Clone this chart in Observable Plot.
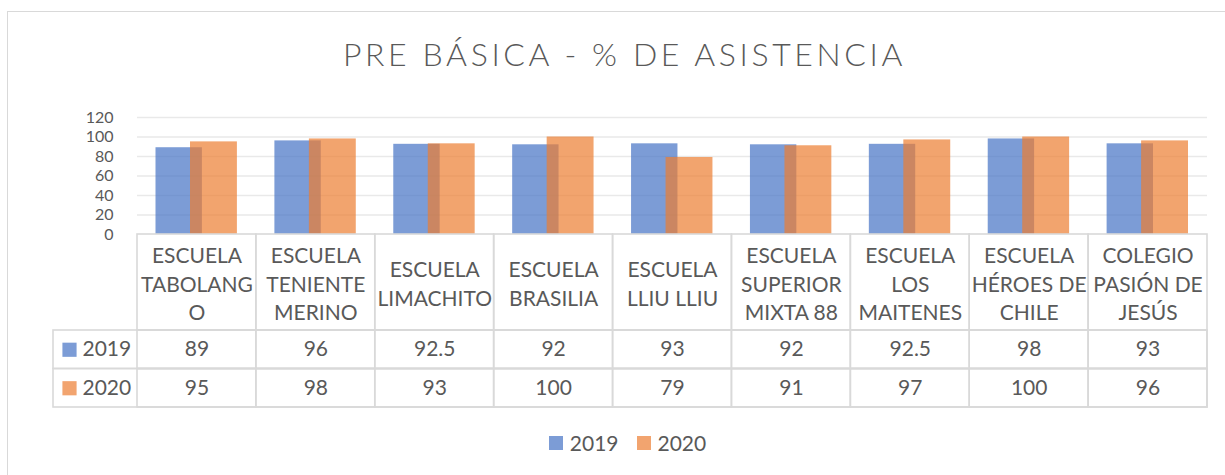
<!DOCTYPE html>
<html>
<head>
<meta charset="utf-8">
<script src="https://cdn.jsdelivr.net/npm/d3@7"></script>
<script src="https://cdn.jsdelivr.net/npm/@observablehq/plot@0.6"></script>
<style>
  html, body { margin: 0; padding: 0; background: #fff; }
  #chart { position: relative; width: 1225px; height: 475px; background: #fff; font-family: Lato, "Open Sans", sans-serif; color: #595959; overflow: hidden; }
  #frame { position: absolute; left: 7px; top: 11px; width: 1240px; height: 490px; border: 1.5px solid #d9d9d9; box-sizing: border-box; }
  #title { position: absolute; left: 12px; top: 34px; width: 1225px; text-align: center; font-size: 32px; font-weight: 300; letter-spacing: 3.6px; color: #595959; }
  .pl { position: absolute; left: 0; overflow: visible; }
  #legend { position: absolute; left: 15px; top: 426px; width: 1225px; display: flex; justify-content: center; }
</style>
</head>
<body>
<div id="chart">
  <div id="frame"></div>
  <div id="title">PRE BÁSICA - % DE ASISTENCIA</div>
</div>
<script>
// ---- data ----
const schools = ["ESCUELA TABOLANGO", "ESCUELA TENIENTE MERINO", "ESCUELA LIMACHITO", "ESCUELA BRASILIA", "ESCUELA LLIU LLIU", "ESCUELA SUPERIOR MIXTA 88", "ESCUELA LOS MAITENES", "ESCUELA HÉROES DE CHILE", "COLEGIO PASIÓN DE JESÚS"];
const schoolLabels = ["ESCUELA\nTABOLANG\nO", "ESCUELA\nTENIENTE\nMERINO", "ESCUELA\nLIMACHITO", "ESCUELA\nBRASILIA", "ESCUELA\nLLIU LLIU", "ESCUELA\nSUPERIOR\nMIXTA 88", "ESCUELA\nLOS\nMAITENES", "ESCUELA\nHÉROES DE\nCHILE", "COLEGIO\nPASIÓN DE\nJESÚS"];
const values2019 = [89, 96, 92.5, 92, 93, 92, 92.5, 98, 93];
const values2020 = [95, 98, 93, 100, 79, 91, 97, 100, 96];
const years = ["2019", "2020"];
const yTicks = [0, 20, 40, 60, 80, 100, 120];

// ---- styling ----
const baseColors = ["#4472C4", "#ED7D31"];
const swatchColors = ["#7C9CD6", "#F2A46F"];
const textColor = "#595959";
const lineColor = "#d9d9d9";
const W = 1225, L = 137, R = 18;
const FONT = "Lato, 'Open Sans', sans-serif";

const chart = document.getElementById("chart");
const rows2019 = schools.map((s, i) => ({school: s, value: values2019[i]}));
const rows2020 = schools.map((s, i) => ({school: s, value: values2020[i]}));

function place(el, top) { el.classList.add("pl"); el.style.top = top + "px"; chart.appendChild(el); }
const xBand = (extra = {}) => ({type: "band", domain: schools, padding: 0, round: false, axis: null, ...extra});

// bars
const bars = Plot.plot({
  width: W, height: 140,
  marginLeft: L, marginRight: R, marginTop: 17, marginBottom: 6,
  style: {fontFamily: FONT, fontSize: "16px", color: textColor, background: "transparent", overflow: "visible"},
  x: xBand(),
  y: {domain: [0, 120], ticks: yTicks},
  marks: [
    Plot.ruleY(yTicks.filter(d => d > 0), {stroke: "#e9e9e9", strokeWidth: 1.5}),
    Plot.axisY({ticks: yTicks, tickSize: 0, tickPadding: 24, fontSize: 16, label: null, fill: textColor}),
    Plot.barY(rows2019, {x: "school", y: "value", fill: baseColors[0], fillOpacity: 0.7, insetLeft: 18.5, insetRight: 54}),
    Plot.barY(rows2020, {x: "school", y: "value", fill: baseColors[1], fillOpacity: 0.7, insetLeft: 53, insetRight: 19})
  ]
});
place(bars, 100);

// table header
const header = Plot.plot({
  width: W, height: 96,
  marginLeft: L, marginRight: R, marginTop: 0, marginBottom: 0,
  style: {fontFamily: FONT, color: textColor, background: "transparent", overflow: "visible"},
  x: xBand(),
  marks: [
    Plot.cell(schools, {x: d => d, fill: "none", stroke: lineColor, strokeWidth: 1.6}),
    Plot.text(schools, {x: d => d, text: (d, i) => schoolLabels[i], fontSize: 21, lineHeight: 1.36, fill: textColor})
  ]
});
place(header, 234);

// table value rows
const tableRows = years.flatMap((y, j) => schools.map((s, i) => ({year: y, school: s, value: (j === 0 ? values2019 : values2020)[i]})));
const body = Plot.plot({
  width: W, height: 77,
  marginLeft: 53, marginRight: R, marginTop: 0, marginBottom: 0,
  style: {fontFamily: FONT, color: textColor, background: "transparent", overflow: "visible"},
  x: xBand({range: [L, W - R]}),
  y: {type: "band", domain: years, padding: 0, round: false, axis: null},
  marks: [
    Plot.cell(years, {y: d => d, fill: "none", stroke: lineColor, strokeWidth: 1.6}),
    Plot.cell(tableRows, {x: "school", y: "year", fill: "none", stroke: lineColor, strokeWidth: 1.6}),
    Plot.text(tableRows, {x: "school", y: "year", text: d => String(d.value), fontSize: 21, fill: textColor}),
    Plot.dot(years, {y: d => d, frameAnchor: "left", dx: 16, symbol: "square", r: 8, fill: (d, i) => swatchColors[i]}),
    Plot.text(years, {y: d => d, text: d => d, frameAnchor: "left", dx: 29, textAnchor: "start", fontSize: 21, fill: textColor})
  ]
});
place(body, 330);

// legend
const legendWrap = document.createElement("div");
legendWrap.id = "legend";
const leg = Plot.legend({
  color: {type: "ordinal", domain: years, range: swatchColors},
  swatchSize: 14,
  style: {fontFamily: FONT, fontSize: "21px", color: textColor, background: "transparent", margin: "0"}
});
legendWrap.appendChild(leg);
chart.appendChild(legendWrap);
const items = Array.from(leg.children).filter(el => el.tagName.toLowerCase() === "span");
items.forEach((it, i) => {
  it.style.marginRight = i === items.length - 1 ? "0px" : "18px";
  const sw = it.querySelector("svg");
  if (sw) sw.style.marginRight = "7px";
});
</script>
</body>
</html>
